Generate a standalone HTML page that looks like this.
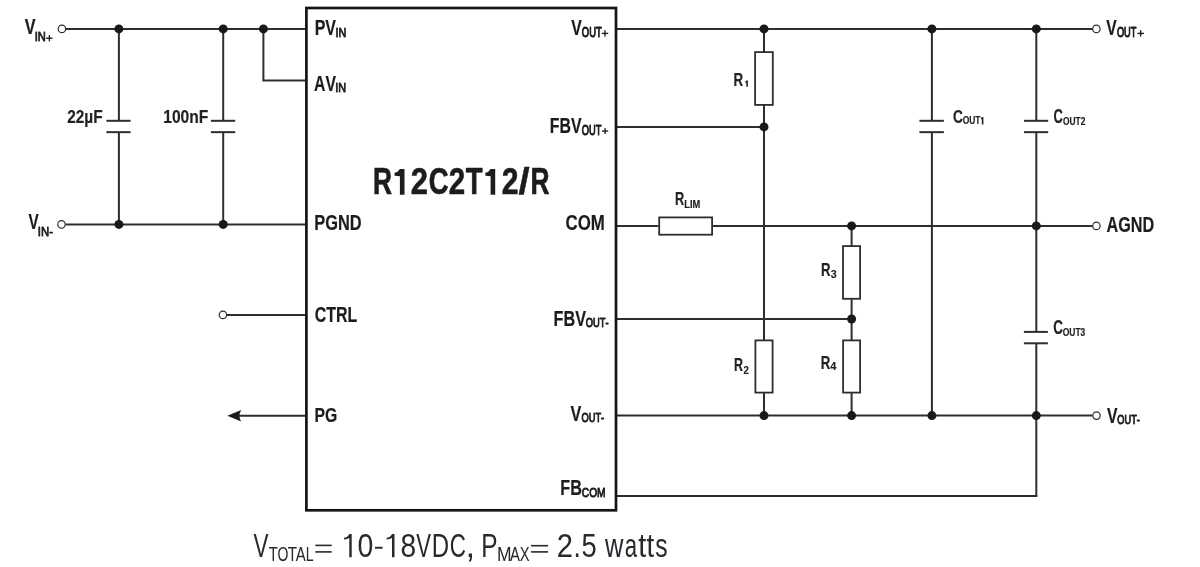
<!DOCTYPE html>
<html><head><meta charset="utf-8"><style>
html,body{margin:0;padding:0;background:#fff;width:1200px;height:567px;overflow:hidden}
svg{display:block}
text{font-family:"Liberation Sans",sans-serif;font-kerning:none;}
</style></head><body>
<svg style="will-change:transform" width="1200" height="567" viewBox="0 0 1200 567">
<rect width="1200" height="567" fill="#fff"/>
<line x1="65.9" y1="28.9" x2="306" y2="28.9" stroke="#2e2e2e" stroke-width="2.0"/>
<line x1="263.4" y1="28.9" x2="263.4" y2="80.5" stroke="#2e2e2e" stroke-width="2.0"/>
<line x1="262.4" y1="80.5" x2="306" y2="80.5" stroke="#2e2e2e" stroke-width="2.0"/>
<line x1="118.9" y1="28.9" x2="118.9" y2="120.8" stroke="#2e2e2e" stroke-width="2.0"/>
<line x1="118.9" y1="132.15" x2="118.9" y2="224.4" stroke="#2e2e2e" stroke-width="2.0"/>
<line x1="106.4" y1="120.8" x2="130.6" y2="120.8" stroke="#2e2e2e" stroke-width="2.0"/><line x1="106.4" y1="132.15" x2="130.6" y2="132.15" stroke="#2e2e2e" stroke-width="2.0"/>
<line x1="223.2" y1="28.9" x2="223.2" y2="120.8" stroke="#2e2e2e" stroke-width="2.0"/>
<line x1="223.2" y1="132.15" x2="223.2" y2="224.4" stroke="#2e2e2e" stroke-width="2.0"/>
<line x1="210.9" y1="120.8" x2="235.2" y2="120.8" stroke="#2e2e2e" stroke-width="2.0"/><line x1="210.9" y1="132.15" x2="235.2" y2="132.15" stroke="#2e2e2e" stroke-width="2.0"/>
<line x1="65.5" y1="224.4" x2="306" y2="224.4" stroke="#2e2e2e" stroke-width="2.0"/>
<line x1="227" y1="314.9" x2="306" y2="314.9" stroke="#2e2e2e" stroke-width="2.0"/>
<line x1="238" y1="415.7" x2="306" y2="415.7" stroke="#2e2e2e" stroke-width="2.0"/>
<path d="M227.3 415.7 L241.3 410 Q237.5 415.7 241.3 421.5 Z" fill="#1c1c1c"/>
<line x1="616" y1="28.9" x2="1092.4" y2="28.9" stroke="#2e2e2e" stroke-width="2.0"/>
<line x1="616" y1="126.9" x2="764.0" y2="126.9" stroke="#2e2e2e" stroke-width="2.0"/>
<line x1="616" y1="225.9" x2="658.5" y2="225.9" stroke="#2e2e2e" stroke-width="2.0"/>
<line x1="713" y1="225.9" x2="1092.4" y2="225.9" stroke="#2e2e2e" stroke-width="2.0"/>
<line x1="616" y1="319.0" x2="851.6" y2="319.0" stroke="#2e2e2e" stroke-width="2.0"/>
<line x1="616" y1="415.6" x2="1092.5" y2="415.6" stroke="#2e2e2e" stroke-width="2.0"/>
<line x1="616" y1="496.0" x2="1037.3" y2="496.0" stroke="#2e2e2e" stroke-width="2.0"/>
<line x1="764.0" y1="28.9" x2="764.0" y2="415.6" stroke="#2e2e2e" stroke-width="2.0"/>
<line x1="851.6" y1="225.9" x2="851.6" y2="415.6" stroke="#2e2e2e" stroke-width="2.0"/>
<line x1="931.9" y1="28.9" x2="931.9" y2="120.8" stroke="#2e2e2e" stroke-width="2.0"/>
<line x1="931.9" y1="132.15" x2="931.9" y2="415.6" stroke="#2e2e2e" stroke-width="2.0"/>
<line x1="919.4" y1="120.8" x2="943.9" y2="120.8" stroke="#2e2e2e" stroke-width="2.0"/><line x1="919.4" y1="132.15" x2="943.9" y2="132.15" stroke="#2e2e2e" stroke-width="2.0"/>
<line x1="1036.3" y1="28.9" x2="1036.3" y2="120.8" stroke="#2e2e2e" stroke-width="2.0"/>
<line x1="1036.3" y1="132.15" x2="1036.3" y2="331.9" stroke="#2e2e2e" stroke-width="2.0"/>
<line x1="1024" y1="120.8" x2="1048.2" y2="120.8" stroke="#2e2e2e" stroke-width="2.0"/><line x1="1024" y1="132.15" x2="1048.2" y2="132.15" stroke="#2e2e2e" stroke-width="2.0"/>
<line x1="1036.3" y1="343.3" x2="1036.3" y2="497.0" stroke="#2e2e2e" stroke-width="2.0"/>
<line x1="1023.9" y1="331.9" x2="1047.9" y2="331.9" stroke="#2e2e2e" stroke-width="2.0"/><line x1="1023.9" y1="343.3" x2="1047.9" y2="343.3" stroke="#2e2e2e" stroke-width="2.0"/>
<rect x="755.10" y="52.10" width="17.70" height="52.80" fill="#fff" stroke="#2e2e2e" stroke-width="1.8"/>
<rect x="755.40" y="340.40" width="17.20" height="52.20" fill="#fff" stroke="#2e2e2e" stroke-width="1.8"/>
<rect x="843.00" y="246.10" width="17.10" height="52.70" fill="#fff" stroke="#2e2e2e" stroke-width="1.8"/>
<rect x="843.10" y="340.40" width="17.00" height="52.20" fill="#fff" stroke="#2e2e2e" stroke-width="1.8"/>
<rect x="659.20" y="217.40" width="52.90" height="17.30" fill="#fff" stroke="#2e2e2e" stroke-width="1.8"/>
<rect x="306.4" y="8" width="309.6" height="502.3" fill="none" stroke="#141414" stroke-width="2.7"/>
<circle cx="118.9" cy="28.9" r="4.5" fill="#161a18"/>
<circle cx="223.2" cy="28.9" r="4.5" fill="#161a18"/>
<circle cx="263.4" cy="28.9" r="4.5" fill="#161a18"/>
<circle cx="118.9" cy="224.4" r="4.5" fill="#161a18"/>
<circle cx="223.2" cy="224.4" r="4.5" fill="#161a18"/>
<circle cx="764.0" cy="28.9" r="4.5" fill="#161a18"/>
<circle cx="931.9" cy="28.9" r="4.5" fill="#161a18"/>
<circle cx="1036.3" cy="28.9" r="4.5" fill="#161a18"/>
<circle cx="764.0" cy="126.9" r="4.5" fill="#161a18"/>
<circle cx="851.6" cy="225.9" r="4.5" fill="#161a18"/>
<circle cx="1036.3" cy="225.9" r="4.5" fill="#161a18"/>
<circle cx="851.6" cy="319.0" r="4.5" fill="#161a18"/>
<circle cx="764.0" cy="415.6" r="4.5" fill="#161a18"/>
<circle cx="851.6" cy="415.6" r="4.5" fill="#161a18"/>
<circle cx="931.9" cy="415.6" r="4.5" fill="#161a18"/>
<circle cx="1036.3" cy="415.6" r="4.5" fill="#161a18"/>
<circle cx="61.9" cy="28.9" r="3.7" fill="#fff" stroke="#2e2e2e" stroke-width="1.2"/>
<circle cx="61.5" cy="224.4" r="3.7" fill="#fff" stroke="#2e2e2e" stroke-width="1.2"/>
<circle cx="222.9" cy="314.9" r="3.7" fill="#fff" stroke="#2e2e2e" stroke-width="1.2"/>
<circle cx="1096.4" cy="28.9" r="3.7" fill="#fff" stroke="#2e2e2e" stroke-width="1.2"/>
<circle cx="1096.4" cy="225.9" r="3.7" fill="#fff" stroke="#2e2e2e" stroke-width="1.2"/>
<circle cx="1096.5" cy="415.6" r="3.7" fill="#fff" stroke="#2e2e2e" stroke-width="1.2"/>
<text transform="translate(24.69 33.60) scale(0.7202 1)" font-size="22.53" font-weight="bold" fill="#1c1c1c" stroke="#1c1c1c" stroke-width="0.218" stroke-linejoin="round">V</text>
<text transform="translate(34.77 41.10) scale(0.8512 1)" font-size="13.08" font-weight="normal" fill="#1c1c1c" stroke="#1c1c1c" stroke-width="0.822" stroke-linejoin="round">IN</text>
<rect x="46.10" y="37.53" width="6.50" height="1.35" fill="#1c1c1c"/><rect x="48.68" y="35.10" width="1.35" height="6.20" fill="#1c1c1c"/>
<text transform="translate(28.40 228.60) scale(0.6794 1)" font-size="22.53" font-weight="bold" fill="#1c1c1c" stroke="#1c1c1c" stroke-width="0.231" stroke-linejoin="round">V</text>
<text transform="translate(37.85 235.70) scale(0.8888 1)" font-size="12.79" font-weight="normal" fill="#1c1c1c" stroke="#1c1c1c" stroke-width="0.788" stroke-linejoin="round">IN-</text>
<text transform="translate(67.16 123.10) scale(0.8498 1)" font-size="18.17" font-weight="bold" fill="#222" stroke="#222" stroke-width="0.177" stroke-linejoin="round">22µF</text>
<text transform="translate(163.22 123.10) scale(0.8599 1)" font-size="18.17" font-weight="bold" fill="#222" stroke="#222" stroke-width="0.174" stroke-linejoin="round">100nF</text>
<text transform="translate(314.73 35.40) scale(0.7125 1)" font-size="22.38" font-weight="bold" fill="#1c1c1c" stroke="#1c1c1c" stroke-width="0.219" stroke-linejoin="round">PV</text>
<text transform="translate(335.51 36.70) scale(0.8235 1)" font-size="13.08" font-weight="normal" fill="#1c1c1c" stroke="#1c1c1c" stroke-width="0.850" stroke-linejoin="round">IN</text>
<text transform="translate(314.11 90.50) scale(0.7043 1)" font-size="22.38" font-weight="bold" fill="#1c1c1c" stroke="#1c1c1c" stroke-width="0.222" stroke-linejoin="round">AV</text>
<text transform="translate(335.19 91.50) scale(0.8615 1)" font-size="12.65" font-weight="normal" fill="#1c1c1c" stroke="#1c1c1c" stroke-width="0.813" stroke-linejoin="round">IN</text>
<text transform="translate(314.30 230.40) scale(0.7624 1)" font-size="21.51" font-weight="bold" fill="#1c1c1c" stroke="#1c1c1c" stroke-width="0.197" stroke-linejoin="round">PGND</text>
<text transform="translate(314.65 322.40) scale(0.7129 1)" font-size="22.38" font-weight="bold" fill="#1c1c1c" stroke="#1c1c1c" stroke-width="0.219" stroke-linejoin="round">CTRL</text>
<text transform="translate(314.54 421.70) scale(0.7658 1)" font-size="20.64" font-weight="bold" fill="#1c1c1c" stroke="#1c1c1c" stroke-width="0.188" stroke-linejoin="round">PG</text>
<text transform="translate(571.29 35.40) scale(0.7089 1)" font-size="22.24" font-weight="bold" fill="#1c1c1c" stroke="#1c1c1c" stroke-width="0.219" stroke-linejoin="round">V</text>
<text transform="translate(581.85 36.75) scale(0.6674 1)" font-size="14.10" font-weight="normal" fill="#1c1c1c" stroke="#1c1c1c" stroke-width="1.049" stroke-linejoin="round">OUT</text>
<rect x="601.70" y="32.73" width="6.50" height="1.35" fill="#1c1c1c"/><rect x="604.28" y="30.20" width="1.35" height="6.40" fill="#1c1c1c"/>
<text transform="translate(549.74 133.00) scale(0.7335 1)" font-size="21.66" font-weight="bold" fill="#1c1c1c" stroke="#1c1c1c" stroke-width="0.206" stroke-linejoin="round">FBV</text>
<text transform="translate(581.86 134.60) scale(0.6437 1)" font-size="14.39" font-weight="normal" fill="#1c1c1c" stroke="#1c1c1c" stroke-width="1.088" stroke-linejoin="round">OUT</text>
<rect x="602.00" y="130.40" width="6.20" height="1.35" fill="#1c1c1c"/><rect x="604.43" y="128.10" width="1.35" height="5.95" fill="#1c1c1c"/>
<text transform="translate(565.61 230.00) scale(0.7578 1)" font-size="22.24" font-weight="bold" fill="#1c1c1c" stroke="#1c1c1c" stroke-width="0.205" stroke-linejoin="round">COM</text>
<text transform="translate(553.51 326.00) scale(0.7605 1)" font-size="21.37" font-weight="bold" fill="#1c1c1c" stroke="#1c1c1c" stroke-width="0.196" stroke-linejoin="round">FBV</text>
<text transform="translate(585.86 327.20) scale(0.7313 1)" font-size="12.79" font-weight="normal" fill="#1c1c1c" stroke="#1c1c1c" stroke-width="0.957" stroke-linejoin="round">OUT-</text>
<text transform="translate(570.59 420.90) scale(0.7442 1)" font-size="21.80" font-weight="bold" fill="#1c1c1c" stroke="#1c1c1c" stroke-width="0.204" stroke-linejoin="round">V</text>
<text transform="translate(581.46 421.70) scale(0.7449 1)" font-size="12.50" font-weight="normal" fill="#1c1c1c" stroke="#1c1c1c" stroke-width="0.940" stroke-linejoin="round">OUT-</text>
<text transform="translate(560.31 495.40) scale(0.7294 1)" font-size="22.24" font-weight="bold" fill="#1c1c1c" stroke="#1c1c1c" stroke-width="0.213" stroke-linejoin="round">FB</text>
<text transform="translate(581.78 497.20) scale(0.7647 1)" font-size="13.37" font-weight="normal" fill="#1c1c1c" stroke="#1c1c1c" stroke-width="0.915" stroke-linejoin="round">COM</text>
<path d="M399.90 168.9 L404.50 168.9 L404.50 194.8 L399.90 194.8 L399.90 176.30 Q397.70 176.00 394.60 175.80 L394.60 172.80 Q398.20 172.00 399.90 168.9 Z" fill="#1c1c1c"/>
<path d="M490.60 168.9 L495.20 168.9 L495.20 194.8 L490.60 194.8 L490.60 176.30 Q488.40 176.00 485.40 175.80 L485.40 172.80 Q488.90 172.00 490.60 168.9 Z" fill="#1c1c1c"/>
<text transform="translate(372.98 194.45) scale(0.7009 1)" font-size="37.65" font-weight="bold" fill="#1c1c1c" stroke="#1c1c1c" stroke-width="0.713" stroke-linejoin="round">R</text>
<text transform="translate(410.78 194.45) scale(0.8221 1)" font-size="37.65" font-weight="bold" fill="#1c1c1c" stroke="#1c1c1c" stroke-width="0.608" stroke-linejoin="round">2</text>
<text transform="translate(428.73 194.45) scale(0.7272 1)" font-size="37.65" font-weight="bold" fill="#1c1c1c" stroke="#1c1c1c" stroke-width="0.688" stroke-linejoin="round">C</text>
<text transform="translate(448.73 194.45) scale(0.7835 1)" font-size="37.65" font-weight="bold" fill="#1c1c1c" stroke="#1c1c1c" stroke-width="0.638" stroke-linejoin="round">2</text>
<text transform="translate(465.74 194.45) scale(0.7308 1)" font-size="37.65" font-weight="bold" fill="#1c1c1c" stroke="#1c1c1c" stroke-width="0.684" stroke-linejoin="round">T</text>
<text transform="translate(501.71 194.45) scale(0.8000 1)" font-size="37.65" font-weight="bold" fill="#1c1c1c" stroke="#1c1c1c" stroke-width="0.625" stroke-linejoin="round">2</text>
<text transform="translate(518.61 194.45) scale(1.0644 1)" font-size="37.65" font-weight="bold" fill="#1c1c1c" stroke="#1c1c1c" stroke-width="0.470" stroke-linejoin="round">/</text>
<text transform="translate(530.49 194.45) scale(0.6989 1)" font-size="37.65" font-weight="bold" fill="#1c1c1c" stroke="#1c1c1c" stroke-width="0.715" stroke-linejoin="round">R</text>
<text transform="translate(733.60 85.50) scale(0.7197 1)" font-size="18.60" font-weight="bold" fill="#222" stroke="#222" stroke-width="0.208" stroke-linejoin="round">R</text>
<path d="M746.3 80.5 L747.9 80.5 L747.9 86.7 L746.3 86.7 L746.3 82.6 Q745.8 82.5 745.1 82.4 L745.1 81.5 Q746 81.3 746.3 80.5 Z" fill="#222"/>
<text transform="translate(733.97 371.40) scale(0.6638 1)" font-size="18.75" font-weight="bold" fill="#222" stroke="#222" stroke-width="0.226" stroke-linejoin="round">R</text>
<text transform="translate(743.57 373.50) scale(0.9258 1)" font-size="10.32" font-weight="bold" fill="#222" stroke="#222" stroke-width="0.162" stroke-linejoin="round">2</text>
<text transform="translate(821.01 275.60) scale(0.7342 1)" font-size="18.02" font-weight="bold" fill="#222" stroke="#222" stroke-width="0.204" stroke-linejoin="round">R</text>
<text transform="translate(830.66 277.90) scale(1.0049 1)" font-size="10.61" font-weight="bold" fill="#222" stroke="#222" stroke-width="0.149" stroke-linejoin="round">3</text>
<text transform="translate(820.71 368.50) scale(0.7058 1)" font-size="18.75" font-weight="bold" fill="#222" stroke="#222" stroke-width="0.213" stroke-linejoin="round">R</text>
<text transform="translate(830.13 370.40) scale(1.0673 1)" font-size="10.32" font-weight="bold" fill="#222" stroke="#222" stroke-width="0.141" stroke-linejoin="round">4</text>
<text transform="translate(675.05 205.40) scale(0.7196 1)" font-size="17.73" font-weight="bold" fill="#222" stroke="#222" stroke-width="0.208" stroke-linejoin="round">R</text>
<text transform="translate(684.28 207.70) scale(0.9032 1)" font-size="10.32" font-weight="bold" fill="#222" stroke="#222" stroke-width="0.166" stroke-linejoin="round">LIM</text>
<text transform="translate(952.94 122.50) scale(0.7175 1)" font-size="19.19" font-weight="bold" fill="#222" stroke="#222" stroke-width="0.209" stroke-linejoin="round">C</text>
<text transform="translate(962.65 124.40) scale(0.7752 1)" font-size="10.90" font-weight="bold" fill="#222" stroke="#222" stroke-width="0.194" stroke-linejoin="round">OUT</text>
<path d="M981.8 116.9 L983.4 116.9 L983.4 124.4 L981.8 124.4 L981.8 119.3 Q981.2 119.2 980.9 119.1 L980.9 118.1 Q981.6 117.9 981.8 116.9 Z" fill="#222"/>
<text transform="translate(1053.47 122.80) scale(0.6625 1)" font-size="19.62" font-weight="bold" fill="#222" stroke="#222" stroke-width="0.226" stroke-linejoin="round">C</text>
<text transform="translate(1062.96 124.60) scale(0.7498 1)" font-size="11.19" font-weight="bold" fill="#222" stroke="#222" stroke-width="0.200" stroke-linejoin="round">OUT2</text>
<text transform="translate(1053.15 334.20) scale(0.6759 1)" font-size="19.91" font-weight="bold" fill="#222" stroke="#222" stroke-width="0.222" stroke-linejoin="round">C</text>
<text transform="translate(1062.65 336.10) scale(0.7305 1)" font-size="11.63" font-weight="bold" fill="#222" stroke="#222" stroke-width="0.205" stroke-linejoin="round">OUT3</text>
<text transform="translate(1106.19 34.50) scale(0.7067 1)" font-size="22.09" font-weight="bold" fill="#1c1c1c" stroke="#1c1c1c" stroke-width="0.218" stroke-linejoin="round">V</text>
<text transform="translate(1116.96 36.75) scale(0.6535 1)" font-size="14.10" font-weight="normal" fill="#1c1c1c" stroke="#1c1c1c" stroke-width="1.071" stroke-linejoin="round">OUT</text>
<rect x="1137.30" y="32.73" width="6.70" height="1.35" fill="#1c1c1c"/><rect x="1139.98" y="30.20" width="1.35" height="6.40" fill="#1c1c1c"/>
<text transform="translate(1106.50 232.40) scale(0.7494 1)" font-size="21.66" font-weight="bold" fill="#1c1c1c" stroke="#1c1c1c" stroke-width="0.202" stroke-linejoin="round">AGND</text>
<text transform="translate(1106.89 423.00) scale(0.7429 1)" font-size="21.22" font-weight="bold" fill="#1c1c1c" stroke="#1c1c1c" stroke-width="0.199" stroke-linejoin="round">V</text>
<text transform="translate(1117.37 424.00) scale(0.7433 1)" font-size="12.35" font-weight="normal" fill="#1c1c1c" stroke="#1c1c1c" stroke-width="0.942" stroke-linejoin="round">OUT-</text>
<text transform="translate(253.60 556.80) scale(0.6697 1)" font-size="33.58" font-weight="normal" fill="#262a2e">V</text>
<text transform="translate(268.77 560.90) scale(0.7406 1)" font-size="20.06" font-weight="normal" fill="#262a2e">T</text>
<text transform="translate(277.43 560.90) scale(0.7011 1)" font-size="20.06" font-weight="normal" fill="#262a2e">O</text>
<text transform="translate(287.66 560.90) scale(0.7583 1)" font-size="20.06" font-weight="normal" fill="#262a2e">T</text>
<text transform="translate(295.67 560.90) scale(0.7443 1)" font-size="20.06" font-weight="normal" fill="#262a2e">A</text>
<text transform="translate(305.65 560.90) scale(0.7010 1)" font-size="20.06" font-weight="normal" fill="#262a2e">L</text>
<rect x="315.3" y="544.6" width="16.4" height="1.6" fill="#262a2e"/><rect x="315.3" y="551.1" width="16.4" height="1.6" fill="#262a2e"/>
<path d="M349.3 533.9 L351.7 533.9 L351.7 557.2 L349.3 557.2 L349.3 538.10 Q347.50 539.20 344.0 539.5 L344.0 537.8 Q347.80 537.20 349.3 533.9 Z" fill="#262a2e"/>
<text transform="translate(357.39 557.20) scale(0.8401 1)" font-size="33.87" font-weight="normal" fill="#262a2e">0</text>
<rect x="374.9" y="546.8" width="7.7" height="1.9" fill="#262a2e"/>
<path d="M392.0 533.9 L394.5 533.9 L394.5 557.2 L392.0 557.2 L392.0 538.10 Q390.20 539.20 386.6 539.5 L386.6 537.8 Q390.50 537.20 392.0 533.9 Z" fill="#262a2e"/>
<text transform="translate(400.48 557.20) scale(0.8306 1)" font-size="33.87" font-weight="normal" fill="#262a2e">8</text>
<text transform="translate(416.30 557.20) scale(0.6505 1)" font-size="33.87" font-weight="normal" fill="#262a2e">V</text>
<text transform="translate(431.73 557.20) scale(0.7079 1)" font-size="33.87" font-weight="normal" fill="#262a2e">D</text>
<text transform="translate(449.86 557.20) scale(0.6621 1)" font-size="33.87" font-weight="normal" fill="#262a2e">C</text>
<text transform="translate(465.49 557.20) scale(1.0273 1)" font-size="33.72" font-weight="normal" fill="#262a2e">,</text>
<text transform="translate(481.20 556.80) scale(0.7275 1)" font-size="33.58" font-weight="normal" fill="#262a2e">P</text>
<text transform="translate(496.97 560.70) scale(0.8848 1)" font-size="19.77" font-weight="normal" fill="#262a2e">M</text>
<text transform="translate(510.07 560.70) scale(0.7553 1)" font-size="19.77" font-weight="normal" fill="#262a2e">A</text>
<text transform="translate(519.67 560.70) scale(0.7464 1)" font-size="19.77" font-weight="normal" fill="#262a2e">X</text>
<rect x="531.1" y="544.9" width="17" height="1.6" fill="#262a2e"/><rect x="531.1" y="551.1" width="17" height="1.6" fill="#262a2e"/>
<text transform="translate(556.83 557.00) scale(0.8695 1)" font-size="33.58" font-weight="normal" fill="#262a2e">2</text>
<text transform="translate(581.60 557.00) scale(0.8166 1)" font-size="33.58" font-weight="normal" fill="#262a2e">5</text>
<text transform="translate(573.50 557.00) scale(0.7786 1)" font-size="33.72" font-weight="normal" fill="#262a2e">.</text>
<text transform="translate(605.04 557.00) scale(0.7556 1)" font-size="33.72" font-weight="normal" fill="#262a2e">w</text>
<text transform="translate(624.76 557.00) scale(0.6581 1)" font-size="33.72" font-weight="normal" fill="#262a2e">a</text>
<text transform="translate(638.16 557.00) scale(0.8593 1)" font-size="33.72" font-weight="normal" fill="#262a2e">t</text>
<text transform="translate(646.58 557.00) scale(0.8245 1)" font-size="33.72" font-weight="normal" fill="#262a2e">t</text>
<text transform="translate(655.21 557.00) scale(0.7345 1)" font-size="33.72" font-weight="normal" fill="#262a2e">s</text>
</svg>
</body></html>
